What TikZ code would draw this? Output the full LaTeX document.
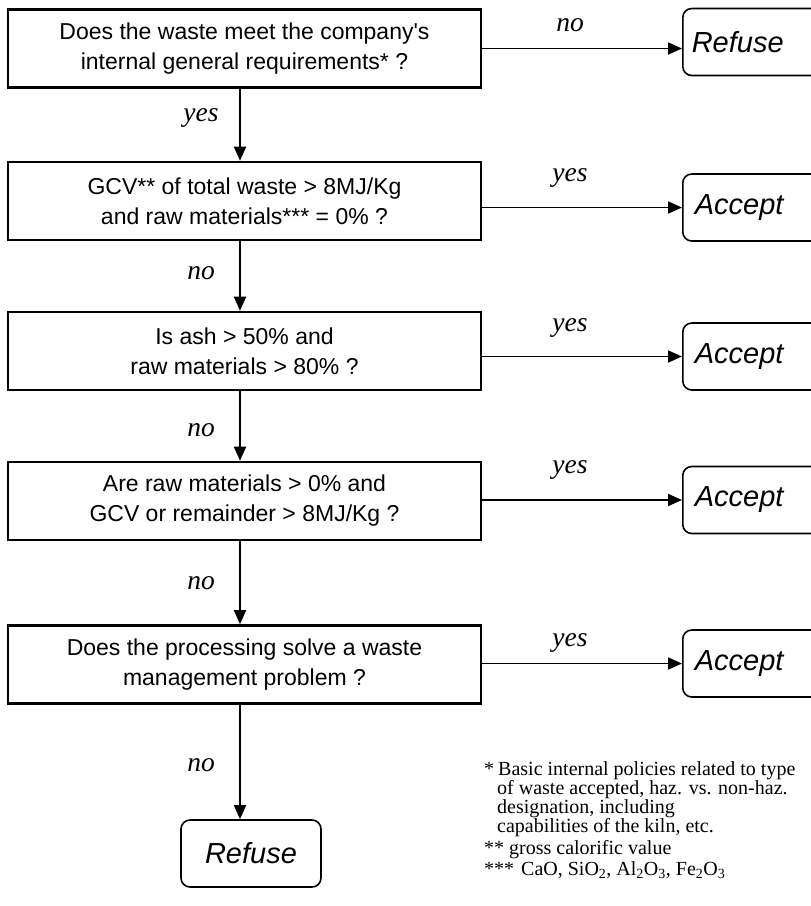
\documentclass[tikz,border=0pt]{standalone}
\usepackage{fontspec}
\setmainfont{Liberation Serif}
\newfontfamily\hv{Liberation Sans}
\usetikzlibrary{arrows.meta}
\begin{document}
\begin{tikzpicture}[x=1pt,y=-1pt,
  qbox/.style={draw, line width=2.6pt, minimum width=473pt, minimum height=78pt, align=center, inner sep=0pt, font=\hv\fontsize{23}{30}\selectfont},
  rbox/.style={draw, line width=1.6pt, rounded corners=9pt, minimum width=170pt, minimum height=67pt, anchor=west, text width=146pt, align=left, inner xsep=12pt, font=\hv\itshape\fontsize{29}{34}\selectfont},
  endbox/.style={draw, line width=1.6pt, rounded corners=9pt, minimum width=140pt, minimum height=67pt, align=center, font=\hv\itshape\fontsize{29}{34}\selectfont},
  lbl/.style={font=\itshape\fontsize{27.5}{30}\selectfont, inner sep=0pt},
  arr/.style={line width=1.8pt, -{Triangle[length=14pt,width=12pt]}},
  fn/.style={anchor=base west, inner sep=0pt, font=\fontsize{20}{20}\selectfont}]
\useasboundingbox (0,0) rectangle (811,906);
\clip (0,0) rectangle (811,906);
\coordinate (lx) at (240,0);
% question boxes
\node[qbox] (b1) at (244.5,48.5) {Does the waste meet the company\char"27 s\\internal general requirements* ?};
\node[qbox] (b2) at (244.5,201) {GCV** of total waste > 8MJ/Kg\\and raw materials*** = 0\% ?};
\node[qbox] (b3) at (244.5,351) {Is ash > 50\% and\\raw materials > 80\% ?};
\node[qbox] (b4) at (244.5,501) {Are raw materials > 0\% and\\GCV or remainder > 8MJ/Kg ?};
\node[qbox] (b5) at (244.5,664.5) {Does the processing solve a waste\\management problem ?};
% outcome boxes
\node[rbox, text width=152pt, inner xsep=7pt] (r1) at (682,42) {Refuse};
\node[rbox] (r2) at (682,207.5) {Accept};
\node[rbox] (r3) at (682,356.5) {Accept};
\node[rbox] (r4) at (682,500) {Accept};
\node[rbox] (r5) at (682,663.5) {Accept};
\node[endbox] (r6) at (251,853.5) {Refuse};
% connectors
\draw[arr] (b1.east) -- (b1.east -| r1.west);
\draw[arr] (b2.east |- r2.west) -- (r2.west);
\draw[arr] (b3.east |- r3.west) -- (r3.west);
\draw[arr] (b4.east |- r4.west) -- (r4.west);
\draw[arr] (b5.east |- r5.west) -- (r5.west);
\draw[arr] (b1.south -| lx) -- (b2.north -| lx);
\draw[arr] (b2.south -| lx) -- (b3.north -| lx);
\draw[arr] (b3.south -| lx) -- (b4.north -| lx);
\draw[arr] (b4.south -| lx) -- (b5.north -| lx);
\draw[arr] (b5.south -| lx) -- (r6.north -| lx);
% labels
\node[lbl] (ly1) at (201,118) {yes};
\node[lbl] (ln2) at (201,273) {no};
\node[lbl] (ln3) at (201,430) {no};
\node[lbl] (ln4) at (201,583) {no};
\node[lbl] (ln5) at (201,765) {no};
\node[lbl] (rn1) at (570,25) {no};
\node[lbl] (ry2) at (570,178) {yes};
\node[lbl] (ry3) at (570,328) {yes};
\node[lbl] (ry4) at (570,470) {yes};
\node[lbl] (ry5) at (570,643) {yes};
% footnotes
\node[fn] (f1) at (484,775) {*\hspace{4pt}Basic internal policies related to type};
\node[fn] (f2) at (497,794) {of waste accepted, haz. vs. non-haz.};
\node[fn] (f3) at (497,813) {designation, including};
\node[fn] (f4) at (497,832) {capabilities of the kiln, etc.};
\node[fn] (f5) at (484,854) {**\hspace{5pt}gross calorific value};
\node[fn] (f6) at (484,875) {***\hspace{7pt}CaO, SiO\textsubscript{2}, Al\textsubscript{2}O\textsubscript{3}, Fe\textsubscript{2}O\textsubscript{3}};
\end{tikzpicture}
\end{document}
